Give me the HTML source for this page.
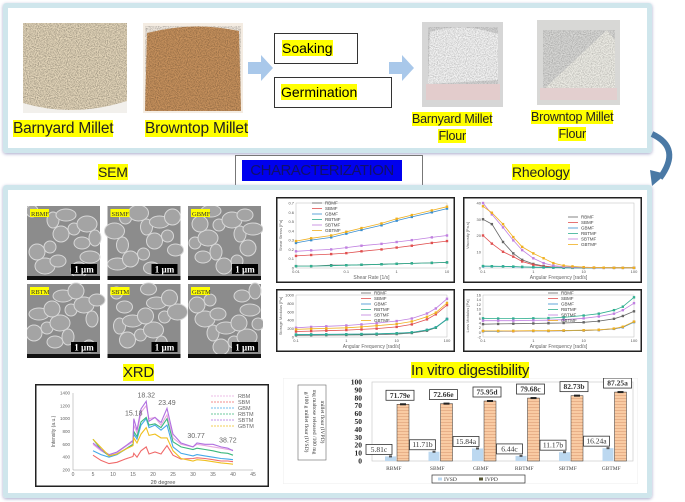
<!DOCTYPE html>
<html><head><meta charset="utf-8">
<style>
body{margin:0;width:685px;height:502px;background:#fff;position:relative;overflow:hidden;font-family:"Liberation Sans",sans-serif}
.abs{position:absolute}
.hl{background:#ffff00}
.box{position:absolute;border:5px solid #cfe6ec;border-radius:3px;box-shadow:0 1px 3px #aac}
.lbl{position:absolute;font-size:14px;color:#222;white-space:nowrap;text-align:center;letter-spacing:-0.2px}
.pbox{position:absolute;border:1px solid #333;background:#fff;font-size:14px}
</style></head><body>
<svg width="0" height="0" style="position:absolute">
<defs>
<filter id="grain" x="0" y="0" width="1" height="1"><feTurbulence type="fractalNoise" baseFrequency="0.9" numOctaves="2" seed="3"/><feColorMatrix values="0 0 0 0 0  0 0 0 0 0  0 0 0 0 0  0 0 0 -1.5 1.0"/></filter>
<pattern id="hatch" width="4" height="3" patternUnits="userSpaceOnUse"><rect width="4" height="3" fill="#f9cba3"/><rect y="2" width="4" height="1" fill="#e8b088"/></pattern>
</defs></svg>

<div class="box" style="left:3px;top:3px;width:639px;height:140px"></div>

<svg class="abs" style="left:23px;top:23px" width="104" height="90"><rect width="104" height="90" fill="#e6d8bc"/><rect width="104" height="90" fill="#b8a07a" opacity="0.45" filter="url(#grain)"/><path d="M0 80 Q50 95 104 78 L104 90 L0 90Z" fill="#f2f0ec"/></svg>
<svg class="abs" style="left:143px;top:23px" width="100" height="90"><rect width="100" height="90" fill="#f4ece2"/><path d="M4 10 Q50 -2 96 8 L98 88 L2 88Z" fill="#c9935e"/><path d="M4 10 Q50 -2 96 8 L98 88 L2 88Z" fill="#8a5a30" opacity="0.4" filter="url(#grain)"/></svg>
<div class="lbl" style="left:13px;top:120px;font-size:15.5px"><span class="hl">Barnyard Millet</span></div>
<div class="lbl" style="left:145px;top:120px;font-size:15.5px"><span class="hl">Browntop Millet</span></div>

<svg class="abs" style="left:248px;top:55px" width="26" height="26"><path d="M0 7H13V0L25 13L13 26V19H0Z" fill="#a9c8ea"/></svg>
<div class="pbox" style="left:274px;top:33px;width:82px;height:29px"><span class="hl" style="position:absolute;left:7px;top:6px">Soaking</span></div>
<div class="pbox" style="left:274px;top:77px;width:116px;height:29px"><span class="hl" style="position:absolute;left:6px;top:6px">Germination</span></div>
<svg class="abs" style="left:389px;top:55px" width="26" height="26"><path d="M0 7H13V0L25 13L13 26V19H0Z" fill="#a9c8ea"/></svg>

<svg class="abs" style="left:422px;top:22px" width="81" height="85"><rect width="81" height="85" fill="#d6d6d6"/><path d="M8 10 Q40 0 76 12 L76 58 L6 62Z" fill="#f4f4f4"/><path d="M8 10 Q40 0 76 12 L76 58 L6 62Z" fill="#aaa" opacity="0.3" filter="url(#grain)"/><rect x="4" y="62" width="74" height="16" fill="#e3cccc"/></svg>
<svg class="abs" style="left:537px;top:20px" width="83" height="85"><rect width="83" height="85" fill="#d8d8d6"/><path d="M6 70 L70 10 L78 20 L78 70Z" fill="#eeede6"/><path d="M6 70 L70 10 L78 20 L78 70Z" fill="#aaa" opacity="0.3" filter="url(#grain)"/><rect x="3" y="68" width="77" height="12" fill="#e3cfcf"/></svg>
<div class="lbl" style="left:412px;top:111px;font-size:12.5px;line-height:17px"><span class="hl">Barnyard Millet</span><br><span class="hl">Flour</span></div>
<div class="lbl" style="left:531px;top:109px;font-size:12.5px;line-height:17px"><span class="hl">Browntop Millet</span><br><span class="hl">Flour</span></div>

<svg class="abs" style="left:640px;top:128px" width="45" height="60"><path d="M12 6 Q42 20 20 50" stroke="#4a79a5" stroke-width="6" fill="none"/><path d="M10 42 L26 46 L12 58Z" fill="#4a79a5"/></svg>

<div class="lbl" style="left:98px;top:164px;font-size:14px"><span class="hl">SEM</span></div>
<div class="pbox" style="left:235px;top:155px;width:186px;height:30px;border-color:#777"><span style="position:absolute;left:6px;top:4px;width:160px;height:21px;background:#0000ee;color:#10106a;font-size:15px;line-height:21px;text-align:center;letter-spacing:-0.5px">CHARACTERIZATION</span></div>
<div class="lbl" style="left:512px;top:164px;font-size:14px"><span class="hl">Rheology</span></div>

<div class="box" style="left:3px;top:185px;width:639px;height:303px"></div>

<svg class="abs" id="sem" style="left:27px;top:206px" width="236" height="152"></svg>
<svg class="abs" id="rheo" style="left:276px;top:197px" width="368" height="157"></svg>

<div class="lbl" style="left:123px;top:364px;font-size:15px"><span class="hl">XRD</span></div>
<svg class="abs" id="xrd" style="left:35px;top:384px" width="234" height="103"></svg>

<div class="lbl" style="left:411px;top:362px;font-size:15px"><span class="hl">In vitro digestibility</span></div>
<svg class="abs" id="bar" style="left:283px;top:378px" width="355" height="106"></svg>

<script>
const NS='http://www.w3.org/2000/svg';
function mk(p,t,a){const e=document.createElementNS(NS,t);for(const k in a)e.setAttribute(k,a[k]);p.appendChild(e);return e;}

// ---------- SEM ----------
const semLabels=['RBMF','SBMF','GBMF','RBTM','SBTM','GBTM'];
const sem=document.getElementById('sem');
semLabels.forEach((lb,i)=>{
  const x=(i%3)*80.5,y=Math.floor(i/3)*78,g=mk(sem,'g',{transform:`translate(${x},${y})`});
  
  
  mk(g,'rect',{width:73,height:74,fill:'#8c8c8c'});
  for(let k=0;k<14;k++){const cx=5+((k*29+i*13)%66),cy=5+((k*23+i*7)%60);
    mk(g,'ellipse',{cx,cy,rx:6+(k%3)*2,ry:6+(k%2)*2,fill:'#a4a4a4',stroke:'#d8d8d8','stroke-width':1});}
  mk(g,'rect',{y:70,width:73,height:4,fill:'#111'});
  mk(g,'rect',{x:44,y:58,width:26,height:10,fill:'#000'});
  const t=mk(g,'text',{x:57,y:66.5,'font-size':9,'font-weight':'bold',fill:'#fff','text-anchor':'middle','font-family':'Liberation Serif'});t.textContent='1 µm';
  mk(g,'rect',{x:3,y:3,width:19,height:8,fill:'#ffff00'});
  const l=mk(g,'text',{x:4,y:10,'font-size':6.5,fill:'#333','font-family':'Liberation Serif'});l.textContent=lb;
});

// ---------- Rheology ----------
const rheoSeries=['RBMF','SBMF','GBMF','RBTMF','SBTMF','GBTMF'];
const rheoColors=['#666','#e05050','#3a8fd0','#30b090','#c080e0','#f0b020'];
const shearX=[0.01,0.02,0.05,0.1,0.2,0.5,1,2,5,10];
const shearY=[[0.02,0.02,0.03,0.03,0.035,0.04,0.045,0.05,0.055,0.06],[0.13,0.14,0.15,0.16,0.18,0.2,0.22,0.24,0.27,0.29],[0.27,0.3,0.33,0.37,0.41,0.46,0.51,0.55,0.6,0.64],[0.02,0.02,0.025,0.03,0.035,0.04,0.045,0.05,0.055,0.06],[0.18,0.19,0.2,0.22,0.24,0.26,0.28,0.3,0.33,0.35],[0.29,0.32,0.35,0.39,0.43,0.48,0.53,0.57,0.62,0.66]];
const viscX=[0.1,0.15,0.25,0.4,0.6,1,1.6,2.5,4,6,10,16,25,40,60,100];
const viscY=[[30,27,16,9,5,2.5,1.2,0.6,0.3,0.2,0.1,0.1,0.1,0.1,0.1,0.1],[20,15,10,7,4,2,1,0.5,0.3,0.2,0.1,0.1,0.1,0.1,0.1,0.1],[1,1,1,0.8,0.6,0.4,0.3,0.2,0.1,0.1,0.1,0.1,0.1,0.1,0.1,0.1],[1.2,1.1,1,0.9,0.7,0.5,0.4,0.3,0.2,0.1,0.1,0.1,0.1,0.1,0.1,0.1],[40,33,25,17,11,6,3,1.5,0.8,0.5,0.3,0.2,0.1,0.1,0.1,0.1],[38,34,27,19,13,9,6,3,1.5,1,0.5,0.3,0.2,0.1,0.1,0.1]];
const modX=[0.1,0.2,0.4,1,2,4,10,20,40,60,100];
const storY=[[40,42,45,48,52,58,70,95,150,220,430],[130,140,150,165,180,200,240,300,420,540,760],[60,62,64,66,70,76,90,110,170,230,430],[55,58,60,64,68,74,88,108,165,225,420],[220,240,255,275,300,330,380,440,560,680,910],[180,195,205,220,240,270,310,370,480,580,810]];
const lossY=[[3.5,3.6,3.7,3.8,3.9,4,4.3,4.8,5.8,7,9],[0.5,0.5,0.5,0.6,0.6,0.7,0.8,1,1.5,2.2,4.5],[0.5,0.5,0.6,0.6,0.6,0.7,0.8,1,1.5,2.2,4.4],[6,5.9,5.9,6,6.1,6.4,7.2,8,9.5,11,15],[5,5,5,5.1,5.2,5.4,6,6.8,8,9.5,12.5],[0.6,0.6,0.6,0.7,0.7,0.8,0.9,1.1,1.6,2.4,4.6]];
const panels=[
 {name:'shear-stress-chart',x:0,y:0,w:179,h:86,xs:shearX,ys:shearY,xmin:0.01,xmax:10,ymin:0,ymax:0.7,yt:[0,0.1,0.2,0.3,0.4,0.5,0.6,0.7],xt:[0.01,0.1,1,10],xl:'Shear Rate [1/s]',yl:'Shear Stress [Pa]',lg:[36,6]},
 {name:'viscosity-chart',x:187,y:0,w:179,h:86,xs:viscX,ys:viscY,xmin:0.1,xmax:100,ymin:0,ymax:40,yt:[0,10,20,30,40],xt:[0.1,1,10,100],xl:'Angular Frequency [rad/s]',yl:'Viscosity [Pa.s]',lg:[105,20]},
 {name:'storage-modulus-chart',x:0,y:92,w:179,h:63,xs:modX,ys:storY,xmin:0.1,xmax:100,ymin:0,ymax:1000,yt:[0,200,400,600,800,1000],xt:[0.1,1,10,100],xl:'Angular Frequency [rad/s]',yl:'Storage Modulus [Pa]',lg:[85,4]},
 {name:'loss-modulus-chart',x:187,y:92,w:179,h:63,xs:modX,ys:lossY,xmin:0.1,xmax:100,ymin:-2,ymax:16,yt:[-2,0,2,4,6,8,10,12,14,16],xt:[0.1,1,10,100],xl:'Angular Frequency [rad/s]',yl:'Loss Modulus [Pa]',lg:[85,4]}];
const rheo=document.getElementById('rheo');
panels.forEach(p=>{
  const g=mk(rheo,'g',{transform:`translate(${p.x},${p.y})`});
  
  
  mk(g,'rect',{x:0.75,y:0.75,width:p.w-1.5,height:p.h-1.5,fill:'#fff',stroke:'#222','stroke-width':1.5});
  const L=20,R=p.w-8,T=6,B=p.h-15;
  const sx=v=>L+(Math.log10(v)-Math.log10(p.xmin))/(Math.log10(p.xmax)-Math.log10(p.xmin))*(R-L);
  const sy=v=>B-(v-p.ymin)/(p.ymax-p.ymin)*(B-T);
  mk(g,'rect',{x:L,y:T,width:R-L,height:B-T,fill:'none',stroke:'#bbb','stroke-width':0.5});
  p.yt.forEach(t=>{const e=mk(g,'text',{x:L-2,y:sy(t)+1.5,'font-size':4,fill:'#555','text-anchor':'end'});e.textContent=t;});
  p.xt.forEach(t=>{const e=mk(g,'text',{x:sx(t),y:B+5,'font-size':4,fill:'#555','text-anchor':'middle'});e.textContent=t;});
  const xl=mk(g,'text',{x:(L+R)/2,y:p.h-4,'font-size':5,fill:'#666','text-anchor':'middle'});xl.textContent=p.xl;
  const yl=mk(g,'text',{x:6,y:(T+B)/2,'font-size':4,fill:'#666','text-anchor':'middle',transform:`rotate(-90 6 ${(T+B)/2})`});yl.textContent=p.yl;
  p.ys.forEach((s,si)=>{
    const d=s.map((v,i)=>(i?'L':'M')+sx(p.xs[i]).toFixed(1)+' '+sy(v).toFixed(1)).join('');
    const path=mk(g,'path',{d,stroke:rheoColors[si],'stroke-width':0.8,fill:'none'});
    
    
    s.forEach((v,i)=>mk(g,'rect',{x:sx(p.xs[i])-1.2,y:sy(v)-1.2,width:2.4,height:2.4,fill:rheoColors[si]}));
    mk(g,'line',{x1:p.lg[0],x2:p.lg[0]+10,y1:p.lg[1]+si*5.5,y2:p.lg[1]+si*5.5,stroke:rheoColors[si],'stroke-width':0.8});
    const lt=mk(g,'text',{x:p.lg[0]+13,y:p.lg[1]+si*5.5+1.7,'font-size':4.5,fill:'#444'});lt.textContent=rheoSeries[si];
  });
});

// ---------- XRD ----------
const xrdNames=['RBM','SBM','GBM','RBTM','SBTM','GBTM'];
const xrdColors=['#e8a8e0','#f06a6a','#45a8e8','#3cb87c','#b070e0','#f0c020'];
const xrdX=[5,7,9,11,13,15,15.2,16,17,18.3,19,20.5,22,23.5,25,27,30,31,33,35,37,38.7,40];
const xrdY=[
[600,500,430,470,560,640,900,780,1100,1200,1000,1020,900,1060,700,600,560,600,580,560,540,520,510],
[430,350,300,320,370,410,460,400,500,560,450,480,450,580,430,370,380,390,380,360,340,340,330],
[500,440,400,440,520,600,760,680,900,1000,860,900,820,900,560,460,420,440,420,400,380,370,360],
[680,520,420,450,520,600,800,720,950,1020,900,920,860,1000,640,560,520,540,520,500,470,460,430],
[620,520,440,480,570,660,1000,820,1150,1270,960,1020,940,1160,760,620,560,620,600,600,560,540,500],
[680,550,420,450,520,580,700,620,760,860,740,760,700,700,500,380,340,360,350,330,310,300,290]];
const xrdTicksX=[0,5,10,15,20,25,30,35,40,45];
const xrdTicksY=[200,400,600,800,1000,1200,1400];
const xrdPeaks=[[15.18,1020,'15.18'],[18.32,1300,'18.32'],[23.49,1180,'23.49'],[30.77,670,'30.77'],[38.72,600,'38.72']];
(function(){
  const s=document.getElementById('xrd');
  mk(s,'rect',{x:0.75,y:0.75,width:232.5,height:101.5,fill:'#fff',stroke:'#222','stroke-width':1.5});
  const L=38,R=218,T=9,B=86;
  const sx=v=>L+v/45*(R-L), sy=v=>B-(v-200)/1200*(B-T);
  mk(s,'line',{x1:L,x2:R,y1:B,y2:B,stroke:'#999','stroke-width':0.5});
  mk(s,'line',{x1:L,x2:L,y1:T,y2:B,stroke:'#999','stroke-width':0.5});
  xrdTicksX.forEach(t=>{const e=mk(s,'text',{x:sx(t),y:B+6,'font-size':5,fill:'#666','text-anchor':'middle'});e.textContent=t;});
  xrdTicksY.forEach(t=>{const e=mk(s,'text',{x:L-3,y:sy(t)+1.5,'font-size':4.5,fill:'#666','text-anchor':'end'});e.textContent=t;});
  const xl=mk(s,'text',{x:(L+R)/2,y:B+14,'font-size':5.5,fill:'#555','text-anchor':'middle'});xl.textContent='2θ degree';
  const yl=mk(s,'text',{x:20,y:(T+B)/2,'font-size':5,fill:'#555','text-anchor':'middle',transform:`rotate(-90 20 ${(T+B)/2})`});yl.textContent='Intensity (a.u.)';
  xrdY.forEach((ser,si)=>{
    const d=ser.map((v,i)=>(i?'L':'M')+sx(xrdX[i]).toFixed(1)+' '+sy(v).toFixed(1)).join('');
    const p=mk(s,'path',{d,stroke:xrdColors[si],'stroke-width':1.1,fill:'none'});
    
    
    mk(s,'line',{x1:176,x2:200,y1:12+si*6,y2:12+si*6,stroke:xrdColors[si],'stroke-width':0.8,'stroke-dasharray':'2 1'});
    const t=mk(s,'text',{x:203,y:14+si*6,'font-size':5.5,fill:'#666'});t.textContent=xrdNames[si];
  });
  xrdPeaks.forEach(pk=>{const t=mk(s,'text',{x:sx(pk[0]),y:sy(pk[1])-2,'font-size':7,fill:'#666','text-anchor':'middle'});t.textContent=pk[2];});
})();

// ---------- Digestibility bars ----------
const barCats=['RBMF','SBMF','GBMF','RBTMF','SBTMF','GBTMF'];
const ivsd=[5.81,11.71,15.84,6.44,11.17,16.24];
const ivpd=[71.79,72.66,75.95,79.68,82.73,87.25];
const ivsdLbl=['5.81c','11.71b','15.84a','6.44c','11.17b','16.24a'];
const ivpdLbl=['71.79e','72.66e','75.95d','79.68c','82.73b','87.25a'];
const yTicks=[0,10,20,30,40,50,60,70,80,90,100];
(function(){
  const s=document.getElementById('bar');
  mk(s,'rect',{width:355,height:106,fill:'#fff',stroke:'#eee'});
  const L=89,R=350,B=83,T=4;
  const sy=v=>B-v/100*(B-T);
  const bw=(R-L)/barCats.length;
  mk(s,'rect',{x:L,y:T,width:R-L,height:B-T,fill:'none',stroke:'#ccc','stroke-width':0.7});
  yTicks.forEach(t=>{const e=mk(s,'text',{x:L-10,y:sy(t)+2.5,'font-size':7.5,'font-weight':'bold',fill:'#222','text-anchor':'end','font-family':'Liberation Serif'});e.textContent=t;});
  mk(s,'rect',{x:15,y:7,width:28,height:75,fill:'#fff',stroke:'#666','stroke-width':0.6});
  ['g/100 g millet flour (IVSD)','mg maltose released /100 mg','millet flour (IVPD)'].forEach((t,i)=>{const e=mk(s,'text',{x:0,y:0,'font-size':5.5,fill:'#333','text-anchor':'middle','font-family':'Liberation Serif',transform:`translate(${22+i*8},44) rotate(90)`});e.textContent=t;});
  barCats.forEach((c,i)=>{
    const x0=L+i*bw;
    const b1=mk(s,'rect',{x:x0+13,y:sy(ivsd[i]),width:11,height:B-sy(ivsd[i]),fill:'#bcd8f0'});
    
    
    const b2=mk(s,'rect',{x:x0+25,y:sy(ivpd[i]),width:12,height:B-sy(ivpd[i]),fill:'url(#hatch)',stroke:'#333','stroke-width':0.5});
    
    
    mk(s,'rect',{x:x0+28,y:sy(ivpd[i])-1,width:6,height:2,fill:'#222'});
    mk(s,'rect',{x:x0+17,y:sy(ivsd[i])-1,width:3,height:2,fill:'#555'});
    mk(s,'rect',{x:x0+14,y:sy(ivpd[i])-14,width:28,height:10,fill:'#fff',stroke:'#333','stroke-width':0.8});
    const t2=mk(s,'text',{x:x0+28,y:sy(ivpd[i])-6.5,'font-size':7.5,'font-weight':'bold',fill:'#333','text-anchor':'middle','font-family':'Liberation Serif'});t2.textContent=ivpdLbl[i];
    mk(s,'rect',{x:x0-6,y:sy(ivsd[i])-12,width:26,height:10,fill:'#fff',stroke:'#333','stroke-width':0.8});
    const t1=mk(s,'text',{x:x0+7,y:sy(ivsd[i])-4.5,'font-size':7.5,fill:'#333','text-anchor':'middle','font-family':'Liberation Serif'});t1.textContent=ivsdLbl[i];
    const ct=mk(s,'text',{x:x0+bw/2,y:B+9,'font-size':5.5,fill:'#444','text-anchor':'middle','font-family':'Liberation Serif'});ct.textContent=c;
  });
  mk(s,'rect',{x:149,y:97,width:93,height:8,fill:'#fff',stroke:'#333','stroke-width':0.7});
  mk(s,'rect',{x:155,y:99.5,width:4,height:3,fill:'#bcd8f0'});
  const l1=mk(s,'text',{x:161,y:103,'font-size':5.5,fill:'#333','font-family':'Liberation Serif'});l1.textContent='IVSD';
  mk(s,'rect',{x:196,y:99.5,width:4,height:3,fill:'#553'});
  const l2=mk(s,'text',{x:202,y:103,'font-size':5.5,fill:'#333','font-family':'Liberation Serif'});l2.textContent='IVPD';
})();
</script>
</body></html>
